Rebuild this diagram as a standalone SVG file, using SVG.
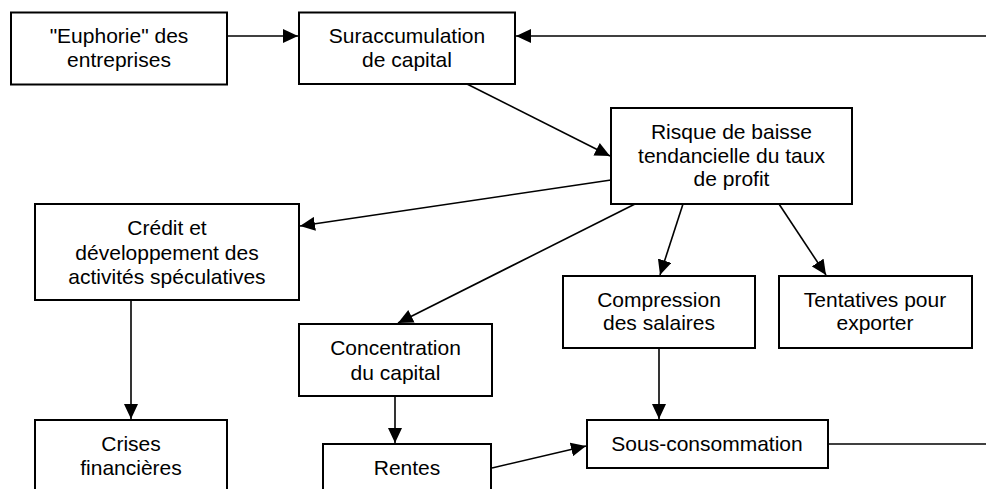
<svg xmlns="http://www.w3.org/2000/svg" width="986" height="489" viewBox="0 0 986 489">
<style>
.box{fill:#fff;stroke:#000;stroke-width:2}
.t{font-family:"Liberation Sans",Arial,sans-serif;font-size:21px;fill:#000;text-anchor:middle}
.c{fill:none;stroke:#000;stroke-width:1.6}
.a{marker-end:url(#ah)}
</style>
<defs>
<marker id="ah" markerUnits="userSpaceOnUse" markerWidth="16" markerHeight="14" refX="15" refY="7" orient="auto" viewBox="0 0 16 14">
<path d="M0,0 L15,7 L0,14 z" fill="#000"/>
</marker>
</defs>
<rect width="986" height="489" fill="#fff"/>
<g id="connectors">
<line class="c a" x1="227" y1="36" x2="298" y2="36"/>
<line class="c a" x1="986" y1="36" x2="516" y2="36"/>
<line class="c a" x1="467" y1="84" x2="610" y2="156"/>
<line class="c a" x1="611" y1="180" x2="300" y2="226"/>
<line class="c a" x1="131" y1="300" x2="131" y2="419"/>
<line class="c a" x1="635" y1="204" x2="398" y2="323"/>
<line class="c a" x1="395" y1="396" x2="395" y2="443"/>
<line class="c a" x1="492" y1="468" x2="586" y2="446"/>
<line class="c a" x1="683" y1="204" x2="660" y2="275"/>
<line class="c a" x1="779" y1="204" x2="826" y2="275"/>
<line class="c a" x1="659" y1="348" x2="659" y2="419"/>
<line class="c" x1="828" y1="444" x2="986" y2="444"/>
</g>
<g id="n-euphorie"><rect class="box" x="11" y="12.5" width="216" height="72"/><text class="t" x="119" y="43">"Euphorie" des</text><text class="t" x="119" y="67">entreprises</text></g>
<g id="n-suraccumulation"><rect class="box" x="299" y="12.5" width="216" height="71.5"/><text class="t" x="407" y="43">Suraccumulation</text><text class="t" x="407" y="67">de capital</text></g>
<g id="n-risque"><rect class="box" x="611" y="108" width="241" height="96"/><text class="t" x="731.5" y="138.5">Risque de baisse</text><text class="t" x="731.5" y="162.5">tendancielle du taux</text><text class="t" x="731.5" y="186">de profit</text></g>
<g id="n-credit"><rect class="box" x="35" y="204" width="264" height="96"/><text class="t" x="167" y="235">Crédit et</text><text class="t" x="167" y="259.5">développement des</text><text class="t" x="167" y="284">activités spéculatives</text></g>
<g id="n-compression"><rect class="box" x="563" y="276" width="192" height="72"/><text class="t" x="659" y="306.5">Compression</text><text class="t" x="659" y="330">des salaires</text></g>
<g id="n-tentatives"><rect class="box" x="779" y="276" width="193" height="72"/><text class="t" x="875" y="306.5">Tentatives pour</text><text class="t" x="875" y="330">exporter</text></g>
<g id="n-concentration"><rect class="box" x="299" y="324" width="193" height="72"/><text class="t" x="395.5" y="355">Concentration</text><text class="t" x="395.5" y="379.5">du capital</text></g>
<g id="n-crises"><rect class="box" x="35" y="420" width="192" height="96"/><text class="t" x="131" y="451">Crises</text><text class="t" x="131" y="475">financières</text></g>
<g id="n-rentes"><rect class="box" x="323" y="444" width="168" height="72"/><text class="t" x="407" y="474.5">Rentes</text></g>
<g id="n-sousconso"><rect class="box" x="587" y="420" width="241" height="48"/><text class="t" x="707" y="450.5">Sous-consommation</text></g>
</svg>
